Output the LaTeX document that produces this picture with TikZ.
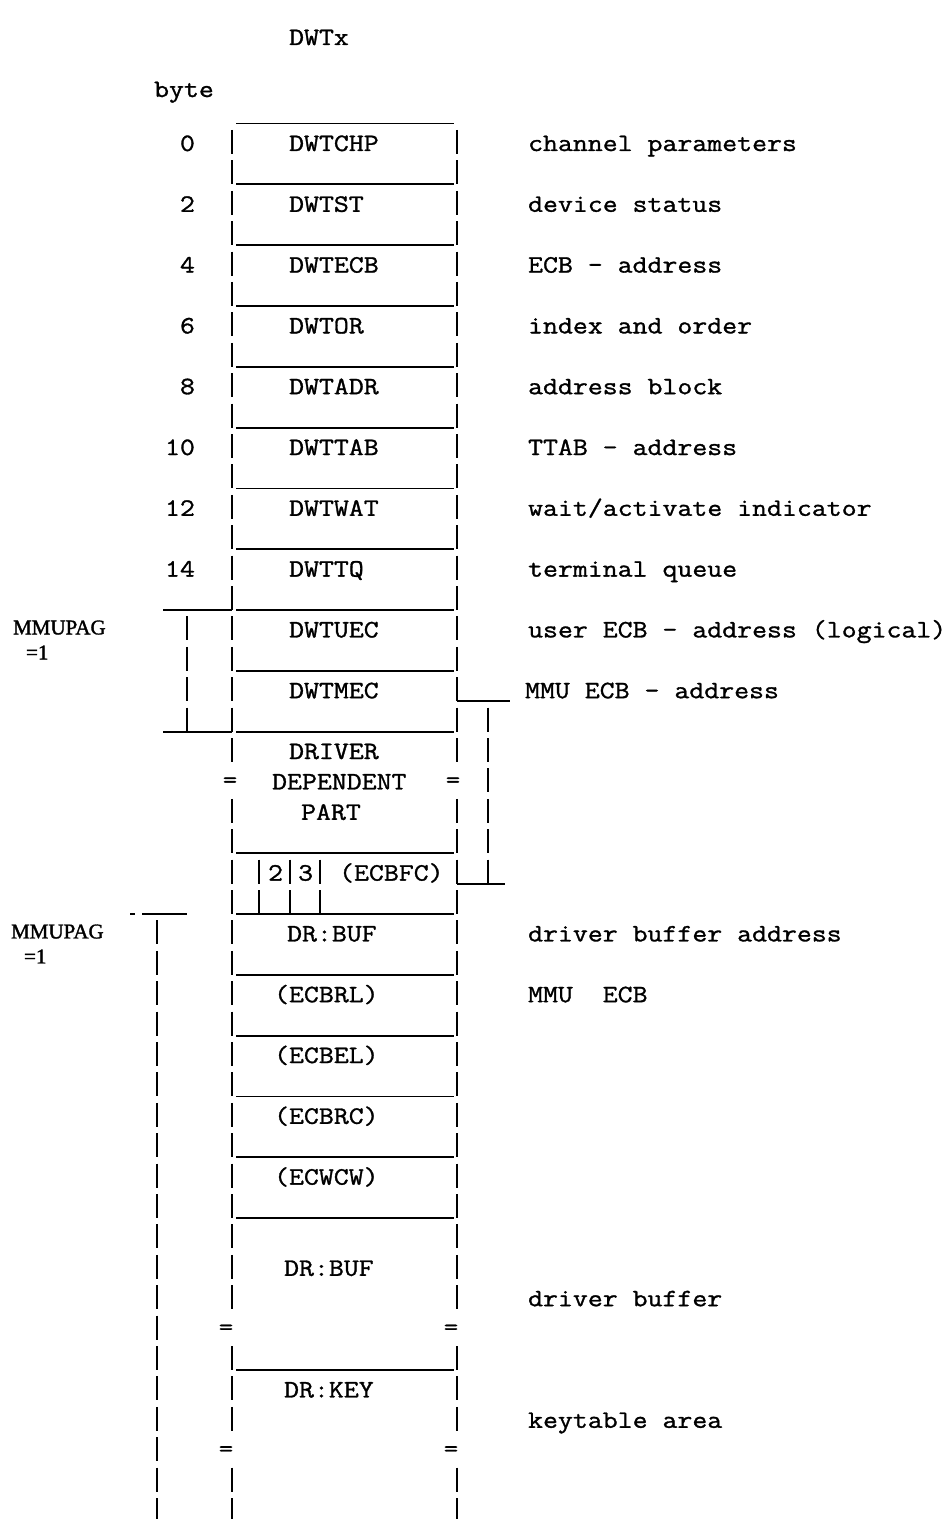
\documentclass[tikz,border=0pt]{standalone}
\usepackage{fontspec}
\setmainfont{Liberation Serif}
\newfontfamily\twfont[FakeStretch=1.16,FakeBold=1.2]{lmmono12-regular.otf}
\newfontfamily\tagfont[FakeBold=1.5]{Liberation Serif}
% y position (px from top) of typed line #1
\def\rowy#1{(144+30.4*(#1))}
\begin{document}
\begin{tikzpicture}[x=0.5pt,y=-0.5pt,line width=1.1pt]
  \tikzset{
    fld/.style={font=\twfont\fontsize{12.5}{15}\selectfont, anchor=base west, inner sep=0pt},
    note/.style={font=\twfont\fontsize{12.5}{15}\selectfont, anchor=base west, inner sep=0pt},
    offs/.style={font=\twfont\fontsize{12.5}{15}\selectfont, anchor=base east, inner sep=0pt},
    pagetag/.style={font=\tagfont\fontsize{10.5}{12}\selectfont, anchor=base west, inner sep=0pt},
    brk/.style={font=\twfont\fontsize{12}{14}\selectfont, inner sep=0pt},
    sep/.style={line width=0.9pt}
  }
  \useasboundingbox (0,0) rectangle (952,1519);

  \node[fld] (title) at (288,45) {DWTx};
  \node[fld] (byte) at (153,97) {byte};

  % byte offsets
  \foreach \n in {0,2,...,14}
    \node[offs] (off\n) at (196,{\rowy{\n}+7}) {\n};

  % fields of the table
  \foreach \n/\t in {0/DWTCHP,2/DWTST,4/DWTECB,6/DWTOR,8/DWTADR,10/DWTTAB,
                     12/DWTWAT,14/DWTTQ,16/DWTUEC,18/DWTMEC,20/DRIVER}
    \node[fld] (fld\n) at (288,{\rowy{\n}+7}) {\t};
  \node[fld] (fld21) at (271,{\rowy{21}+7}) {DEPENDENT};
  \node[fld] (fld22) at (300,{\rowy{22}+7}) {PART};
  \node[fld] (bit2) at (267,{\rowy{24}+7}) {2};
  \node[fld] (bit3) at (297,{\rowy{24}+7}) {3};
  \node[fld] (fld24) at (338,{\rowy{24}+7}) {(ECBFC)};
  \node[fld] (fld26) at (286,{\rowy{26}+7}) {DR:BUF};
  \foreach \n/\t in {28/{(ECBRL)},30/{(ECBEL)},32/{(ECBRC)},34/{(ECWCW)}}
    \node[fld] (fld\n) at (273,{\rowy{\n}+7}) {\t};
  \node[fld] (fld37) at (283,{\rowy{37}+7}) {DR:BUF};
  \node[fld] (fld41) at (283,{\rowy{41}+7}) {DR:KEY};

  % comments on the right
  \foreach \n/\t in {0/channel parameters,2/device status,4/ECB - address,
                     6/index and order,8/address block,10/TTAB - address,
                     12/{wait/activate indicator},14/terminal queue,
                     16/user ECB - address (logical),26/driver buffer address,
                     28/MMU\ \ ECB,38/driver buffer,42/keytable area}
    \node[note] (note\n) at (527,{\rowy{\n}+7}) {\t};
  \node[note] (note18) at (524,{\rowy{18}+7}) {MMU ECB - address};

  % MMUPAG tags
  \node[pagetag] (pag1) at (12,{\rowy{16}+4}) {MMUPAG};
  \node[pagetag] (pag1v) at (25,{\rowy{16}+29}) {=1};
  \node[pagetag] (pag2) at (10,{\rowy{26}+4}) {MMUPAG};
  \node[pagetag] (pag2v) at (23,{\rowy{26}+29}) {=1};

  % outer walls, typed as bars
  \foreach \a/\b in {0/20,22/38,40/42,44/45}
    \foreach \n in {\a,...,\b} {
      \draw (232,{\rowy{\n}-14}) -- ++(0,24);
      \draw (457,{\rowy{\n}-14}) -- ++(0,24);
    }
  \node[brk] (eqL21) at (230,{\rowy{21}}) {=};
  \node[brk] (eqR21) at (453,{\rowy{21}}) {=};
  \foreach \n in {39,43} {
    \node[brk] (eqL\n) at (226,{\rowy{\n}}) {=};
    \node[brk] (eqR\n) at (451,{\rowy{\n}}) {=};
  }

  % separators
  \foreach \n in {-1,1,3,5,7,9,11,13,15,17,19,23,25,27,29,31,33,35,40}
    \draw[sep] (236,{\rowy{\n}+10}) -- (454,{\rowy{\n}+10});

  % bracket DWTUEC..DWTMEC
  \draw[sep] (163,{\rowy{15}+10}) -- (232,{\rowy{15}+10});
  \draw[sep] (163,{\rowy{19}+10}) -- (232,{\rowy{19}+10});
  \foreach \n in {16,...,19}
    \draw (187,{\rowy{\n}-14}) -- ++(0,24);

  % bracket DWTMEC..ECBFC
  \draw[sep] (457,{\rowy{18}+10}) -- (510,{\rowy{18}+10});
  \foreach \n in {19,...,24}
    \draw (488,{\rowy{\n}-14}) -- ++(0,24);
  \draw[sep] (457,{\rowy{24}+10}) -- (505,{\rowy{24}+10});

  % ECBFC bit cells
  \foreach \x in {259,290,320}
    \foreach \n in {24,25}
      \draw (\x,{\rowy{\n}-14}) -- ++(0,24);

  % bracket DR:BUF..end
  \draw[sep] (130,{\rowy{25}+10}) -- (135,{\rowy{25}+10});
  \draw[sep] (142,{\rowy{25}+10}) -- (187,{\rowy{25}+10});
  \foreach \n in {26,...,45}
    \draw (157,{\rowy{\n}-14}) -- ++(0,24);
\end{tikzpicture}
\end{document}
